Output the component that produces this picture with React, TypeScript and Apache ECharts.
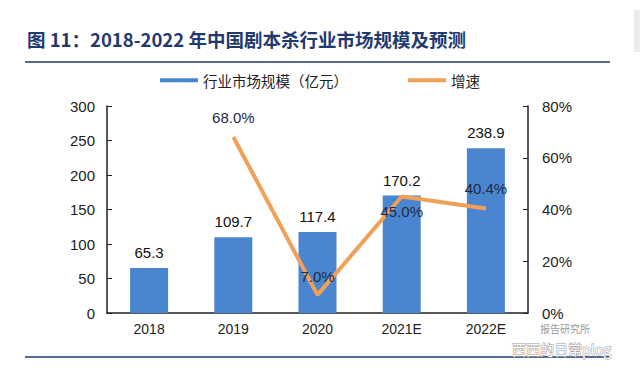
import React, { useEffect, useRef } from "react";
import * as echarts from "echarts";

const categories = ["2018", "2019", "2020", "2021E", "2022E"];
const marketSize = [65.3, 109.7, 117.4, 170.2, 238.9];
const growth: (number | null)[] = [null, 68.0, 7.0, 45.0, 40.4];
const growthLabelPos = ["top", "top", "top", "bottom", "top"];
const growthLabelDist = [7, 12, 11, 7, 12];

const FONT = "'Liberation Sans', Arial, 'Noto Sans CJK SC', sans-serif";
const CJK = "'Noto Sans CJK SC', 'Liberation Sans', sans-serif";
const ORANGE = "#F0A057";

export default function App() {
  const ref = useRef<HTMLDivElement>(null);
  useEffect(() => {
    document.body.style.margin = "0";
    const chart = echarts.init(ref.current!, undefined, { renderer: "svg" });
    chart.setOption({
      animation: false,
      backgroundColor: "#fff",
      textStyle: { fontFamily: FONT },
      title: {
        text: "图 11：2018-2022 年中国剧本杀行业市场规模及预测",
        left: 22,
        top: 25,
        textStyle: {
          fontFamily: CJK,
          fontSize: 18.5,
          fontWeight: "bold",
          color: "#1F3A6E",
        },
      },
      legend: {
        top: 68,
        left: 155,
        itemGap: 60,
        itemWidth: 38,
        itemHeight: 4,
        textStyle: { fontSize: 14.5, color: "#222", fontFamily: CJK },
        data: [
          { name: "行业市场规模（亿元）", icon: "rect" },
          { name: "增速", icon: "rect", itemStyle: { color: ORANGE, opacity: 1 } },
        ],
      },
      grid: { left: 107, right: 112, top: 106, bottom: 61 },
      xAxis: {
        type: "category",
        data: categories,
        axisLine: { lineStyle: { color: "#222", width: 1.5 } },
        axisTick: { inside: true, length: 5, lineStyle: { color: "#222" } },
        axisLabel: { fontSize: 14, color: "#222", margin: 9 },
      },
      yAxis: [
        {
          type: "value",
          min: 0,
          max: 300,
          interval: 50,
          axisLine: { show: true, lineStyle: { color: "#222", width: 1.5 } },
          axisTick: { show: true, inside: true, length: 5, lineStyle: { color: "#222" } },
          axisLabel: { fontSize: 15, color: "#222", margin: 12 },
          splitLine: { show: false },
        },
        {
          type: "value",
          min: 0,
          max: 80,
          interval: 20,
          position: "right",
          axisLine: { show: true, lineStyle: { color: "#222", width: 1.5 } },
          axisTick: { show: true, inside: true, length: 5, lineStyle: { color: "#222" } },
          axisLabel: { fontSize: 15, color: "#222", margin: 14, formatter: "{value}%" },
          splitLine: { show: false },
        },
      ],
      series: [
        {
          name: "行业市场规模（亿元）",
          type: "bar",
          data: marketSize,
          barWidth: 38,
          itemStyle: { color: "#4A86D0" },
          label: {
            show: true,
            position: "top",
            distance: 8,
            fontSize: 15,
            color: "#111",
            formatter: (p: any) => p.value.toFixed(1),
          },
          z: 2,
        },
        {
          name: "增速",
          type: "line",
          yAxisIndex: 1,
          data: growth.map((v, i) => ({
            value: v,
            label: { position: growthLabelPos[i], distance: growthLabelDist[i] },
          })),
          connectNulls: false,
          symbol: "circle",
          symbolSize: 0.5,
          showSymbol: true,
          lineStyle: { color: ORANGE, width: 4 },
          itemStyle: { color: ORANGE },
          label: {
            show: true,
            fontSize: 15,
            color: "#1d2a44",
            formatter: (p: any) => (p.value == null ? "" : p.value.toFixed(1) + "%"),
          },
          z: 3,
        },
      ],
      graphic: [
        {
          type: "line",
          shape: { x1: 25, y1: 62, x2: 610, y2: 62 },
          style: { stroke: "#1F3A6E", lineWidth: 1.5 },
        },
        {
          type: "line",
          shape: { x1: 25, y1: 357, x2: 610, y2: 357 },
          style: { stroke: "#1F3A6E", lineWidth: 1.5 },
        },
        {
          type: "rect",
          shape: { x: 634, y: 10, width: 6, height: 42 },
          style: { fill: "#ececec" },
        },
        {
          type: "text",
          x: 540,
          y: 323,
          style: {
            text: "报告研究所",
            fontSize: 10,
            fill: "#9a9a9a",
            fontFamily: CJK,
          },
        },
        {
          type: "text",
          x: 512,
          y: 342,
          style: {
            text: "西西的日常plog",
            fontSize: 14,
            fill: "#ffffff",
            stroke: "#9a9a9a",
            lineWidth: 1,
            fontFamily: CJK,
          },
        },
      ],
    });
    return () => chart.dispose();
  }, []);
  return <div ref={ref} style={{ width: 640, height: 374 }} />;
}
